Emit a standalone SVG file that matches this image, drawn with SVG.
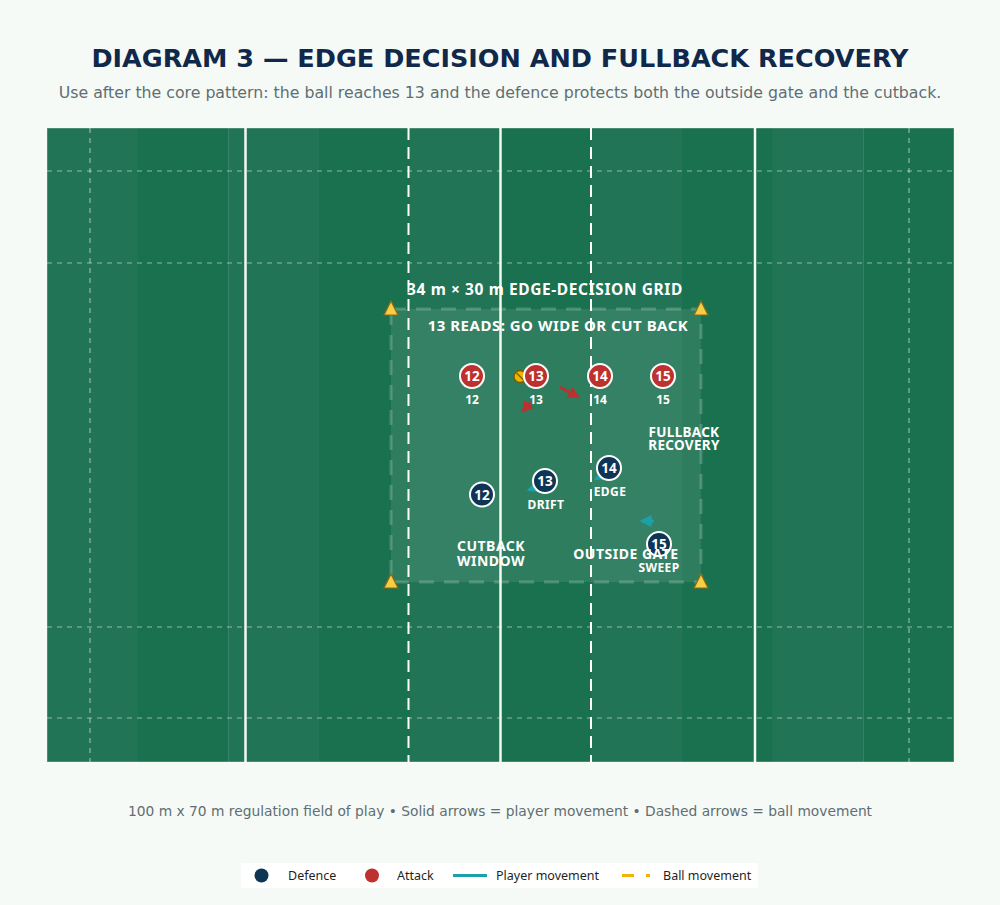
<svg xmlns="http://www.w3.org/2000/svg" width="1000" height="905" viewBox="0 0 1000 905">
<defs>
<style>
.title{font-family:"DejaVu Sans",sans-serif;font-weight:bold;font-size:25.5px;fill:#10284a;text-anchor:middle}
.sub{font-family:"DejaVu Sans",sans-serif;font-size:15.75px;fill:#5f6e72;text-anchor:middle}
.foot{font-family:"DejaVu Sans",sans-serif;font-size:13.8px;fill:#5f6e72;text-anchor:middle}
.lbl{font-family:"Noto Sans","Open Sans",sans-serif;font-weight:bold;fill:#ffffff;text-anchor:middle}
.num{font-family:"Noto Sans","Open Sans",sans-serif;font-weight:bold;font-size:13.5px;fill:#ffffff;text-anchor:middle}
.leg{font-family:"Noto Sans","Open Sans",sans-serif;font-size:12.5px;fill:#1f1f1f}
.light{fill:#217556}
.dark{fill:#1a714f}
.thin{stroke:#ffffff;stroke-opacity:0.5;stroke-width:1.2;stroke-dasharray:5 5;fill:none}
.bold{stroke:#ffffff;stroke-width:2;stroke-dasharray:12 7;fill:none}
.solid{stroke:#f4f8f4;stroke-width:2.5}
.att{fill:#bd312e;stroke:#ffffff;stroke-width:2}
.def{fill:#0f3556;stroke:#ffffff;stroke-width:2}
.cone{fill:#f6cd45;stroke:#8c6a12;stroke-width:1.2}
.red{stroke:#bd312e;stroke-width:3;fill:none}
.teal{stroke:#1aa1ac;stroke-width:3;fill:none}
</style>
<marker id="ahR" viewBox="0 0 10 10" refX="8" refY="5" markerWidth="4" markerHeight="4" orient="auto"><path d="M0,0 L10,5 L0,10 z" fill="#bd312e"/></marker>
<marker id="ahT" viewBox="0 0 10 10" refX="8" refY="5" markerWidth="4" markerHeight="4" orient="auto"><path d="M0,0 L10,5 L0,10 z" fill="#1aa1ac"/></marker>
</defs>
<rect x="0" y="0" width="1000" height="905" fill="#f5faf7"/>
<text class="title" x="500" y="67">DIAGRAM 3 — EDGE DECISION AND FULLBACK RECOVERY</text>
<text class="sub" x="500" y="98">Use after the core pattern: the ball reaches 13 and the defence protects both the outside gate and the cutback.</text>

<g id="field">
<rect class="light" x="47" y="128" width="91" height="634"/>
<rect class="dark" x="137.7" y="128" width="91" height="634"/>
<rect class="light" x="228.4" y="128" width="91" height="634"/>
<rect class="dark" x="319" y="128" width="91" height="634"/>
<rect class="light" x="409.8" y="128" width="91" height="634"/>
<rect class="dark" x="500.5" y="128" width="91" height="634"/>
<rect class="light" x="591" y="128" width="91" height="634"/>
<rect class="dark" x="682" y="128" width="91" height="634"/>
<rect class="light" x="772.6" y="128" width="91" height="634"/>
<rect class="dark" x="863.3" y="128" width="90.7" height="634"/>
<rect x="47" y="128" width="907" height="634" fill="none" stroke="#ffffff" stroke-opacity="0.35" stroke-width="1"/>
<line class="thin" x1="47" y1="171" x2="954" y2="171"/>
<line class="thin" x1="47" y1="263" x2="954" y2="263"/>
<line class="thin" x1="47" y1="627" x2="954" y2="627"/>
<line class="thin" x1="47" y1="718" x2="954" y2="718"/>
<line class="thin" x1="90" y1="128" x2="90" y2="762"/>
<line class="thin" x1="909" y1="128" x2="909" y2="762"/>
<line class="bold" x1="408.5" y1="128" x2="408.5" y2="762"/>
<line class="bold" x1="591" y1="128" x2="591" y2="762"/>
<line class="solid" x1="245.5" y1="128" x2="245.5" y2="762"/>
<line class="solid" x1="500.5" y1="128" x2="500.5" y2="762"/>
<line class="solid" x1="755" y1="128" x2="755" y2="762"/>
</g>

<g id="grid">
<rect x="391" y="309" width="310" height="273" fill="#ffffff" fill-opacity="0.09" stroke="#ffffff" stroke-opacity="0.2" stroke-width="3" stroke-dasharray="15 10"/>
<text class="lbl" x="545" y="295" font-size="15.5" letter-spacing="0.6">34 m × 30 m EDGE-DECISION GRID</text>
<text class="lbl" x="558" y="331" font-size="15" letter-spacing="0.5">13 READS: GO WIDE OR CUT BACK</text>
</g>

<g id="cones">
<polygon class="cone" points="391,301 384,315 398,315"/>
<polygon class="cone" points="701,301 694,315 708,315"/>
<polygon class="cone" points="391,574 384,588 398,588"/>
<polygon class="cone" points="701,574 694,588 708,588"/>
</g>

<g id="connectors">
<line class="red" x1="531" y1="402" x2="523" y2="411" marker-end="url(#ahR)"/>
<line class="red" x1="560" y1="387" x2="578" y2="397" marker-end="url(#ahR)"/>
<line class="teal" x1="540" y1="486" x2="529" y2="490" marker-end="url(#ahT)"/>
<line class="teal" x1="604" y1="474" x2="596" y2="479" marker-end="url(#ahT)"/>
<line class="teal" x1="654" y1="521" x2="642" y2="521" marker-end="url(#ahT)"/>
</g>

<g id="ball">
<circle cx="520" cy="376.5" r="6" fill="#f1b400" stroke="#7a5a00" stroke-width="1.3"/>
<line x1="516.5" y1="373" x2="523.5" y2="380" stroke="#7a5a00" stroke-width="1.3"/>
</g>

<g id="attack-12"><circle class="att" cx="472" cy="376" r="12"/><text class="num" x="472" y="381">12</text><text class="lbl" x="472" y="404" font-size="12">12</text></g>
<g id="attack-13"><circle class="att" cx="536" cy="376" r="12"/><text class="num" x="536" y="381">13</text><text class="lbl" x="536" y="404" font-size="12">13</text></g>
<g id="attack-14"><circle class="att" cx="600" cy="376" r="12"/><text class="num" x="600" y="381">14</text><text class="lbl" x="600" y="404" font-size="12">14</text></g>
<g id="attack-15"><circle class="att" cx="663" cy="376" r="12"/><text class="num" x="663" y="381">15</text><text class="lbl" x="663" y="404" font-size="12">15</text></g>

<g id="defence-12"><circle class="def" cx="482" cy="494.5" r="12"/><text class="num" x="482" y="499.5">12</text></g>
<g id="defence-13"><circle class="def" cx="545" cy="481" r="12"/><text class="num" x="545" y="486">13</text><text class="lbl" x="546" y="509" font-size="12" letter-spacing="0.4">DRIFT</text></g>
<g id="defence-14"><circle class="def" cx="609" cy="468" r="12"/><text class="num" x="609" y="473">14</text><text class="lbl" x="610" y="496" font-size="12" letter-spacing="0.4">EDGE</text></g>
<g id="defence-15"><circle class="def" cx="659" cy="544" r="12"/><text class="num" x="659" y="549">15</text><text class="lbl" x="659" y="572" font-size="12" letter-spacing="0.4">SWEEP</text></g>

<g id="zone-labels">
<text class="lbl" x="684" y="437" font-size="13.5" letter-spacing="0.3">FULLBACK</text>
<text class="lbl" x="684" y="450" font-size="13.5" letter-spacing="0.3">RECOVERY</text>
<text class="lbl" x="491" y="551" font-size="14" letter-spacing="0.5">CUTBACK</text>
<text class="lbl" x="491" y="566" font-size="14" letter-spacing="0.5">WINDOW</text>
<text class="lbl" x="626" y="559" font-size="14" letter-spacing="0.5">OUTSIDE GATE</text>
</g>

<text class="foot" x="500" y="816">100 m x 70 m regulation field of play • Solid arrows = player movement • Dashed arrows = ball movement</text>

<g id="legend">
<rect x="241" y="863" width="517" height="25" fill="#ffffff"/>
<circle cx="261.5" cy="875.5" r="7" fill="#0f3556"/>
<text class="leg" x="288" y="880">Defence</text>
<circle cx="372" cy="875.5" r="7" fill="#bd312e"/>
<text class="leg" x="397" y="880">Attack</text>
<line x1="453" y1="875.5" x2="487" y2="875.5" stroke="#1aa1ac" stroke-width="3"/>
<text class="leg" x="496" y="880">Player movement</text>
<line x1="622" y1="875.5" x2="652" y2="875.5" stroke="#f5b300" stroke-width="3" stroke-dasharray="12 12 4 12"/>
<text class="leg" x="663" y="880">Ball movement</text>
</g>
</svg>
